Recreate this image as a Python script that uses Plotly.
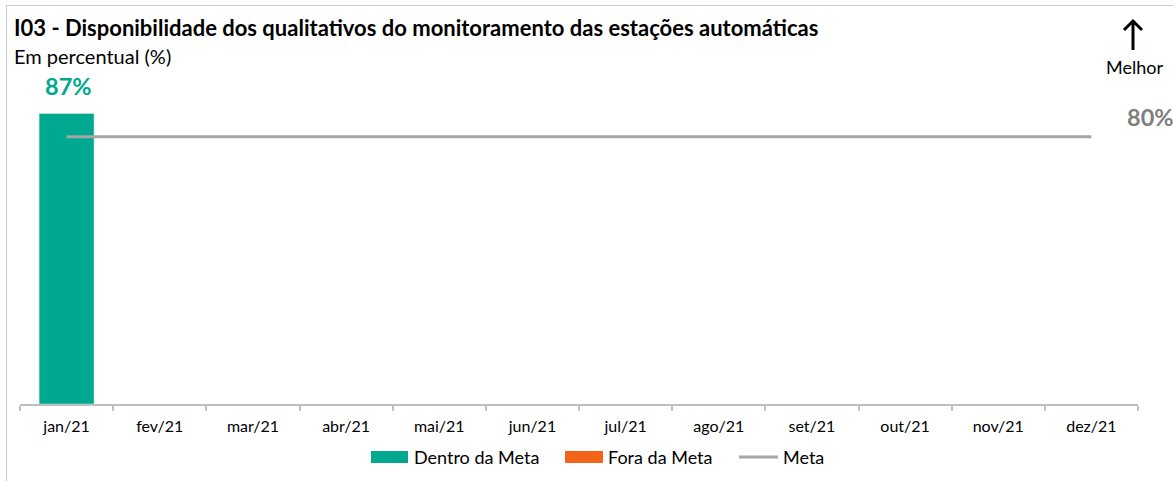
import plotly.graph_objects as go

# Data
months = ["jan/21", "fev/21", "mar/21", "abr/21", "mai/21", "jun/21",
          "jul/21", "ago/21", "set/21", "out/21", "nov/21", "dez/21"]
values = [87, None, None, None, None, None, None, None, None, None, None, None]
meta = [80] * 12

GREEN = "#00A88F"
ORANGE = "#F26419"
GRAY = "#A6A6A6"
FONT = "Lato"

W, H = 1173, 481
ML, MR, MT, MB = 20, 35, 70, 77
PW, PH = W - ML - MR, H - MT - MB


def px(x):
    return (x - ML) / PW


def py(y):
    return (H - MB - y) / PH


dentro = [v if (v is not None and v >= m) else None for v, m in zip(values, meta)]
fora = [v if (v is not None and v < m) else None for v, m in zip(values, meta)]

fig = go.Figure()
fig.add_trace(go.Bar(x=months, y=dentro, marker_color=GREEN, name="Dentro da Meta",
                     showlegend=False))
fig.add_trace(go.Bar(x=months, y=fora, marker_color=ORANGE, name="Fora da Meta",
                     showlegend=False))
fig.add_trace(go.Scatter(x=months, y=meta, mode="lines", line=dict(color=GRAY, width=3),
                         name="Meta", showlegend=False))

annotations = []
# value labels above bars
for m, v, m_val in zip(months, values, meta):
    if v is not None:
        annotations.append(dict(x=m, y=v, text=f"<b>{v}%</b>", showarrow=False,
                                yanchor="bottom", yshift=11, xshift=2,
                                font=dict(family=FONT, size=23.5,
                                          color=GREEN if v >= m_val else ORANGE)))
# target label
annotations.append(dict(x=months[-1], y=meta[-1], text=f"<b>{meta[-1]}%</b>",
                        showarrow=False, xanchor="left", yanchor="bottom",
                        xshift=34, yshift=4,
                        font=dict(family=FONT, size=23.5, color="#7F7F7F")))
# titles
annotations.append(dict(xref="paper", yref="paper", x=px(12), y=py(27),
                        text="<b>I03 - Disponibilidade dos qualitativos do monitoramento das estações automáticas</b>",
                        showarrow=False, xanchor="left", yanchor="middle",
                        font=dict(family=FONT, size=22, color="#000000")))
annotations.append(dict(xref="paper", yref="paper", x=px(12), y=py(56),
                        text="Em percentual (%)", showarrow=False, xanchor="left",
                        yanchor="middle", font=dict(family=FONT, size=20, color="#000000")))
annotations.append(dict(xref="paper", yref="paper", x=px(1134), y=py(67),
                        text="Melhor", showarrow=False, xanchor="center",
                        yanchor="middle", font=dict(family=FONT, size=18, color="#000000")))

shapes = []
# outer frame
shapes.append(dict(type="rect", xref="paper", yref="paper", x0=px(6.5), x1=px(1300),
                   y0=py(700), y1=py(5.5), line=dict(color="#C8C8C8", width=1),
                   fillcolor="rgba(0,0,0,0)", layer="below"))

# "better" direction arrow (open chevron head)
ax_, top, bot, hw, hh = 1133, 21, 50, 9, 9
arrow_path = (f"M {px(ax_)},{py(bot)} L {px(ax_)},{py(top)} "
              f"M {px(ax_ - hw)},{py(top + hh)} L {px(ax_)},{py(top)} L {px(ax_ + hw)},{py(top + hh)}")
shapes.append(dict(type="path", xref="paper", yref="paper", path=arrow_path,
                   line=dict(color="#000000", width=3)))

# legend drawn as swatches + labels
legend_y = 457
legend_items = [
    ("rect", GREEN, 371, 408, "Dentro da Meta", 412),
    ("rect", ORANGE, 565, 603, "Fora da Meta", 606),
    ("line", GRAY, 739, 778, "Meta", 781),
]
for kind, color, x0, x1, label, tx in legend_items:
    if kind == "rect":
        shapes.append(dict(type="rect", xref="paper", yref="paper", x0=px(x0), x1=px(x1),
                           y0=py(463), y1=py(451), fillcolor=color, line=dict(width=0)))
    else:
        shapes.append(dict(type="line", xref="paper", yref="paper", x0=px(x0), x1=px(x1),
                           y0=py(legend_y), y1=py(legend_y), line=dict(color=color, width=3)))
    annotations.append(dict(xref="paper", yref="paper", x=px(tx), y=py(legend_y),
                            text=label, showarrow=False, xanchor="left", yanchor="middle",
                            font=dict(family=FONT, size=18, color="#000000")))

fig.update_layout(
    width=W, height=H,
    margin=dict(l=ML, r=MR, t=MT, b=MB),
    paper_bgcolor="white", plot_bgcolor="white",
    bargap=0.41, barmode="overlay",
    showlegend=False,
    annotations=annotations, shapes=shapes,
    xaxis=dict(type="category", showgrid=False, showline=True, linecolor="#BFBFBF",
               linewidth=1.5, ticks="outside", tickson="boundaries", ticklen=5,
               tickcolor="#BFBFBF", tickwidth=1.5, ticklabelstandoff=7,
               tickfont=dict(family=FONT, size=16, color="#000000"),
               range=[-0.5, 11.5]),
    yaxis=dict(range=[0, 100], visible=False, showgrid=False, zeroline=False),
)

fig.write_html("out.html")
